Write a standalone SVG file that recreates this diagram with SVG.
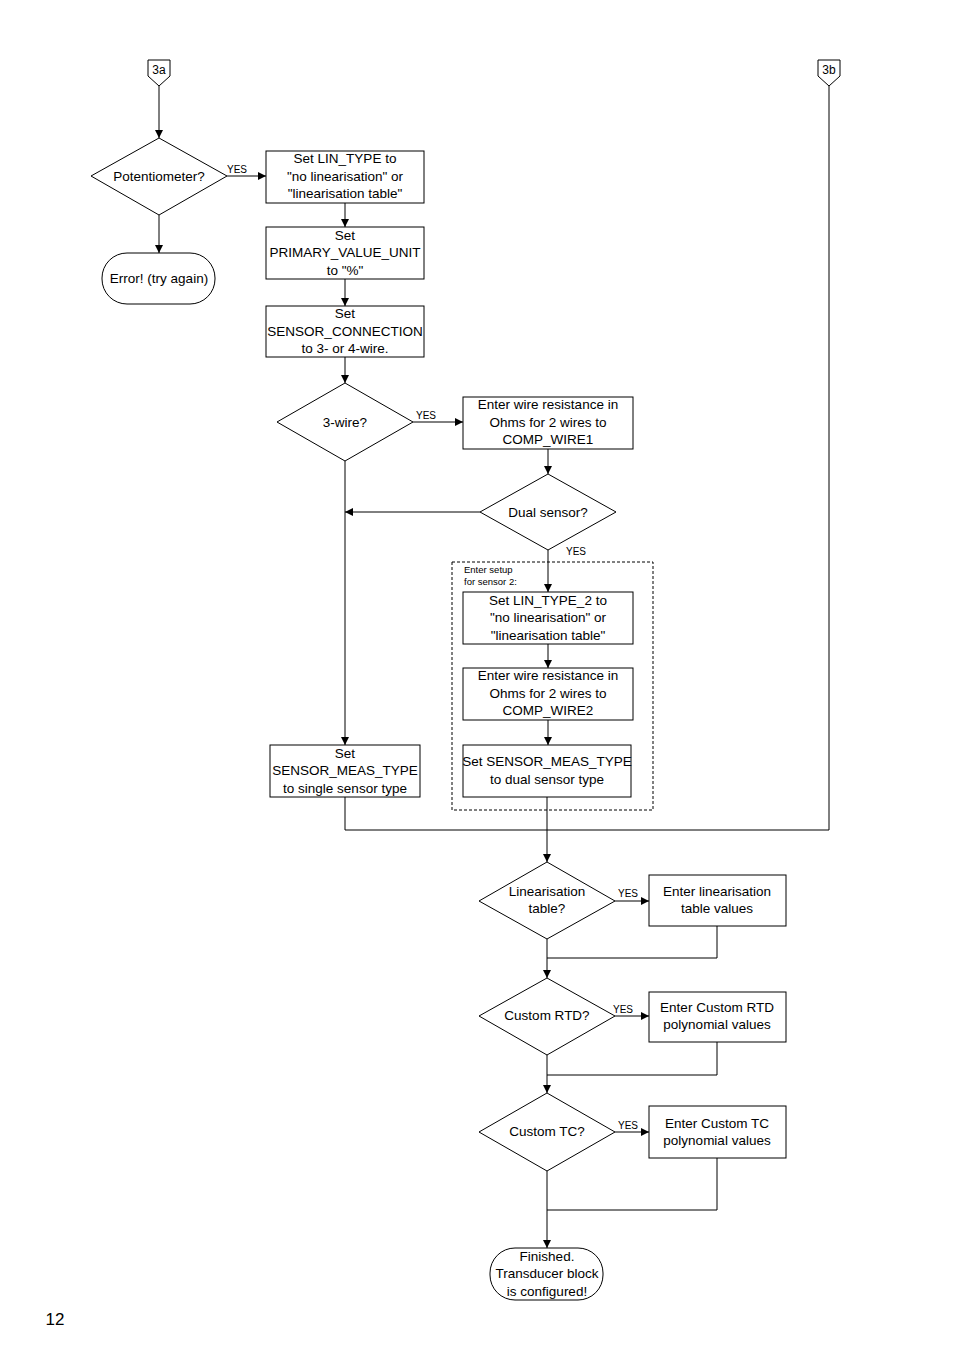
<svg xmlns="http://www.w3.org/2000/svg" width="954" height="1350" viewBox="0 0 954 1350">
<defs>
<marker id="ah" viewBox="0 0 10 10" refX="10" refY="5" markerWidth="8" markerHeight="8" markerUnits="userSpaceOnUse" orient="auto"><path d="M0,0 L10,5 L0,10 z" fill="#000"/></marker>
<style>
.s{fill:#fff;stroke:#000;stroke-width:1}
.l{fill:none;stroke:#000;stroke-width:1}
.a{fill:none;stroke:#000;stroke-width:1;marker-end:url(#ah)}
text{font-family:"Liberation Sans",Arial,sans-serif;font-size:13.5px;text-anchor:middle;fill:#000}
.y{font-size:10px}
.sm{font-size:9.5px;text-anchor:start}
</style>
</defs>
<rect width="954" height="1350" fill="#fff"/>
<g id="connectors">
<path class="a" d="M159,86 V138"/>
<path class="a" d="M227,176 H266"/>
<path class="a" d="M159,215 V253"/>
<path class="a" d="M345,203 V227"/>
<path class="a" d="M345,279 V306"/>
<path class="a" d="M345,357 V383"/>
<path class="a" d="M413,422 H463"/>
<path class="a" d="M548,449 V474"/>
<path class="a" d="M480,512 H345"/>
<path class="a" d="M345,461 V745"/>
<path class="a" d="M548,550 V592"/>
<path class="a" d="M548,644 V668"/>
<path class="a" d="M548,720 V745"/>
<path class="l" d="M345,797 V830 H829 V86"/>
<path class="a" d="M547,797 V862"/>
<path class="a" d="M615,901 H649"/>
<path class="l" d="M717,926 V958 H547"/>
<path class="a" d="M547,939 V978"/>
<path class="a" d="M615,1016 H649"/>
<path class="l" d="M717,1042 V1075 H547"/>
<path class="a" d="M547,1055 V1093"/>
<path class="a" d="M615,1132 H649"/>
<path class="l" d="M717,1158 V1210 H547"/>
<path class="a" d="M547,1171 V1248"/>
<text class="y" x="237" y="173">YES</text>
<text class="y" x="426" y="419">YES</text>
<text class="y" x="576" y="555">YES</text>
<text class="y" x="628" y="897">YES</text>
<text class="y" x="623" y="1013">YES</text>
<text class="y" x="628" y="1129">YES</text>
</g>
<g id="c3a"><path class="s" d="M148,60 H170 V76 L159,86 L148,76 Z"/><text x="159" y="74" style="font-size:12px">3a</text></g>
<g id="c3b"><path class="s" d="M818,60 H840 V76 L829,86 L818,76 Z"/><text x="829" y="74" style="font-size:12px">3b</text></g>
<g id="pot"><path class="s" d="M91,176 L159,138 L227,176 L159,215 Z"/><text x="159" y="181">Potentiometer?</text></g>
<g id="err"><rect class="s" x="102" y="253" width="113" height="51" rx="25"/><text x="159" y="283">Error! (try again)</text></g>
<g id="b1"><rect class="s" x="266" y="151" width="158" height="52"/><text x="345" y="163">Set LIN_TYPE to</text><text x="345" y="181">"no linearisation" or</text><text x="345" y="198">"linearisation table"</text></g>
<g id="b2"><rect class="s" x="266" y="227" width="158" height="52"/><text x="345" y="240">Set</text><text x="345" y="257">PRIMARY_VALUE_UNIT</text><text x="345" y="275">to "%"</text></g>
<g id="b3"><rect class="s" x="266" y="306" width="158" height="51"/><text x="345" y="318">Set</text><text x="345" y="336">SENSOR_CONNECTION</text><text x="345" y="353">to 3- or 4-wire.</text></g>
<g id="d3w"><path class="s" d="M277,422 L345,383 L413,422 L345,461 Z"/><text x="345" y="427">3-wire?</text></g>
<g id="b4"><rect class="s" x="463" y="397" width="170" height="52"/><text x="548" y="409">Enter wire resistance in</text><text x="548" y="427">Ohms for 2 wires to</text><text x="548" y="444">COMP_WIRE1</text></g>
<g id="ddual"><path class="s" d="M480,512 L548,474 L616,512 L548,550 Z"/><text x="548" y="517">Dual sensor?</text></g>
<g id="grp"><rect x="452" y="562" width="201" height="248" fill="none" stroke="#000" stroke-dasharray="3,2"/><text class="sm" x="464" y="573">Enter setup</text><text class="sm" x="464" y="585">for sensor 2:</text></g>
<g id="b5"><rect class="s" x="463" y="592" width="170" height="52"/><text x="548" y="605">Set LIN_TYPE_2 to</text><text x="548" y="622">"no linearisation" or</text><text x="548" y="640">"linearisation table"</text></g>
<g id="b6"><rect class="s" x="463" y="668" width="170" height="52"/><text x="548" y="680">Enter wire resistance in</text><text x="548" y="698">Ohms for 2 wires to</text><text x="548" y="715">COMP_WIRE2</text></g>
<g id="b7"><rect class="s" x="463" y="745" width="168" height="52"/><text x="547" y="766">Set SENSOR_MEAS_TYPE</text><text x="547" y="784">to dual sensor type</text></g>
<g id="bs"><rect class="s" x="270" y="745" width="150" height="52"/><text x="345" y="758">Set</text><text x="345" y="775">SENSOR_MEAS_TYPE</text><text x="345" y="793">to single sensor type</text></g>
<g id="dlin"><path class="s" d="M479,901 L547,862 L615,901 L547,939 Z"/><text x="547" y="896">Linearisation</text><text x="547" y="913">table?</text></g>
<g id="blin"><rect class="s" x="649" y="875" width="137" height="51"/><text x="717" y="896">Enter linearisation</text><text x="717" y="913">table values</text></g>
<g id="drtd"><path class="s" d="M479,1016 L547,978 L615,1016 L547,1055 Z"/><text x="547" y="1020">Custom RTD?</text></g>
<g id="brtd"><rect class="s" x="649" y="992" width="137" height="50"/><text x="717" y="1012">Enter Custom RTD</text><text x="717" y="1029">polynomial values</text></g>
<g id="dtc"><path class="s" d="M479,1132 L547,1093 L615,1132 L547,1171 Z"/><text x="547" y="1136">Custom TC?</text></g>
<g id="btc"><rect class="s" x="649" y="1106" width="137" height="52"/><text x="717" y="1128">Enter Custom TC</text><text x="717" y="1145">polynomial values</text></g>
<g id="fin"><rect class="s" x="490" y="1248" width="113" height="52" rx="25"/><text x="547" y="1261">Finished.</text><text x="547" y="1278">Transducer block</text><text x="547" y="1296">is configured!</text></g>
<text x="55" y="1325" style="font-size:17px">12</text>
</svg>
